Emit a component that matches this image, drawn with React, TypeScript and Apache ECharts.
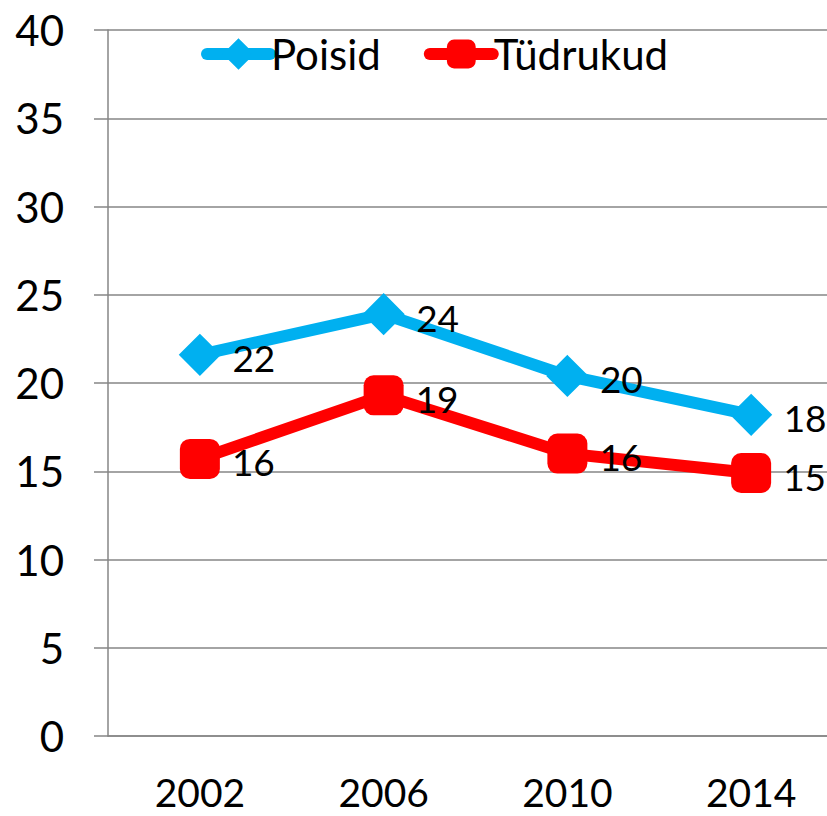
import React, { useEffect, useRef } from "react";
import * as echarts from "echarts";

const categories = ["2002", "2006", "2010", "2014"];
const poisid = [21.6, 23.9, 20.4, 18.2];
const tudrukud = [15.7, 19.3, 16.0, 14.9];
const yTicks = { min: 0, max: 40, interval: 5 };

const FONT = "Lato";

export default function App() {
  const ref = useRef<HTMLDivElement>(null);
  useEffect(() => {
    const chart = echarts.init(ref.current!, null, { renderer: "svg" });
    const labelCfg = {
      show: true,
      position: "right",
      distance: 12,
      offset: [0, 3],
      fontFamily: FONT,
      fontSize: 37,
      color: "#000",
      formatter: (p: any) => String(Math.round(p.value)),
    };
    chart.setOption({
      animation: false,
      backgroundColor: "#fff",
      grid: { left: 108, top: 30, height: 706, width: 735, outerBoundsMode: "none", containLabel: false },
      legend: {
        left: 196,
        top: 28,
        itemWidth: 63,
        itemHeight: 36,
        itemGap: 43,
        lineStyle: { width: 12, cap: "round" },
        textStyle: { fontFamily: FONT, fontSize: 42, color: "#000", padding: [0, 0, 0, -4] },
        data: ["Poisid", "Tüdrukud"],
      },
      xAxis: {
        type: "category",
        data: categories,
        boundaryGap: true,
        axisLine: { lineStyle: { color: "#868686", width: 1.5 } },
        axisTick: { length: 14, lineStyle: { color: "#868686", width: 1.5 } },
        axisLabel: { fontFamily: FONT, fontSize: 39, lineHeight: 34, color: "#000", margin: 39 },
      },
      yAxis: {
        type: "value",
        min: yTicks.min,
        max: yTicks.max,
        interval: yTicks.interval,
        axisLine: { show: true, lineStyle: { color: "#868686", width: 1.5 } },
        axisTick: { show: true, length: 14, lineStyle: { color: "#868686", width: 1.5 } },
        splitLine: { lineStyle: { color: "#868686", width: 1.5 } },
        axisLabel: { fontFamily: FONT, fontSize: 42, color: "#000", margin: 44 },
      },
      series: [
        {
          name: "Poisid",
          type: "line",
          data: poisid,
          symbol: "diamond",
          symbolSize: 38,
          lineStyle: { color: "#00B0F0", width: 12 },
          itemStyle: { color: "#00B0F0", borderColor: "#00B0F0", borderWidth: 3 },
          label: labelCfg,
        },
        {
          name: "Tüdrukud",
          type: "line",
          data: tudrukud,
          symbol: "roundRect",
          symbolSize: 40,
          lineStyle: { color: "#FF0000", width: 12 },
          itemStyle: { color: "#FF0000" },
          label: labelCfg,
        },
      ],
    });
    return () => chart.dispose();
  }, []);
  return <div ref={ref} style={{ width: 827, height: 816, position: "absolute", left: 0, top: 0 }} />;
}
